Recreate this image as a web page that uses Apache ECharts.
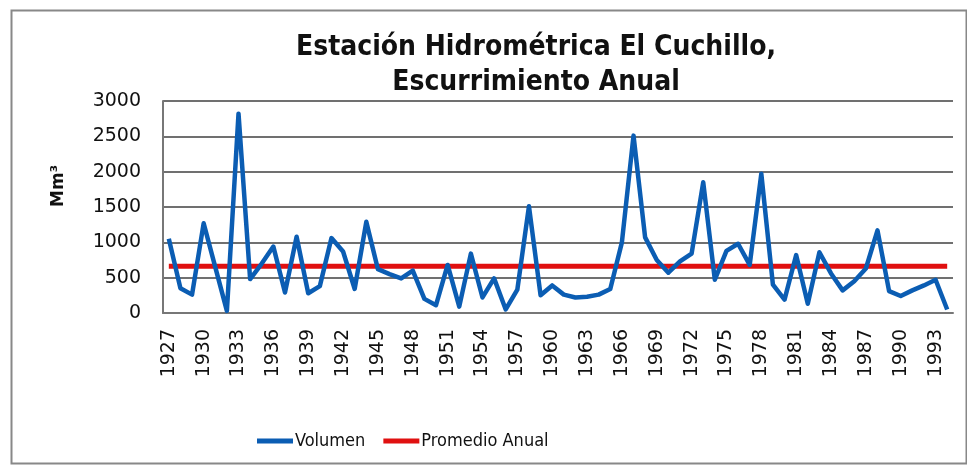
<!DOCTYPE html>
<html>
<head>
<meta charset="utf-8">
<script src="https://cdn.jsdelivr.net/npm/echarts@6/dist/echarts.min.js"></script>
<style>html,body{margin:0;padding:0;background:#fff}#c{width:967px;height:466px}</style>
</head>
<body>
<div id="c"></div>
<script>
const years = [];
for (let y = 1927; y <= 1994; y++) years.push(String(y));
const volumen = [1050,350,260,1270,650,30,2820,480,700,940,290,1080,280,380,1060,870,340,1290,620,550,490,600,200,110,680,90,840,220,490,50,330,1510,250,390,260,220,230,260,340,1000,2510,1070,750,570,730,840,1850,470,880,980,680,1970,400,190,820,130,860,560,320,450,630,1170,310,240,320,390,470,50];
const promedioValue = 660;
const promedio = years.map(() => promedioValue);
const yTicks = [0, 500, 1000, 1500, 2000, 2500, 3000];

const narrow = '"DejaVu Sans Condensed", sans-serif';
const chart = echarts.init(document.getElementById('c'), null, {renderer: 'canvas'});
chart.setOption({
  animation: false,
  backgroundColor: '#fff',
  title: {
    text: 'Estación Hidrométrica El Cuchillo,\nEscurrimiento Anual',
    left: 531, textAlign: 'center', top: 25,
    textStyle: {fontFamily: narrow, fontWeight: 'bold', fontSize: 28, lineHeight: 35, color: '#111'}
  },
  legend: {
    left: 252, top: 427, itemWidth: 36, itemHeight: 5, itemGap: 18,
    icon: 'rect',
    textStyle: {fontFamily: narrow, fontSize: 18, color: '#111', padding: [0,0,0,-3]},
    data: ['Volumen', 'Promedio Anual']
  },
  grid: {left: 163, right: 14, top: 101, bottom: 153, containLabel: false},
  xAxis: {
    type: 'category', data: years, boundaryGap: true,
    axisLine: {lineStyle: {color: '#777', width: 2}},
    axisTick: {show: false},
    axisLabel: {interval: 2, rotate: 90, margin: 16, fontFamily: 'DejaVu Sans', fontSize: 19, color: '#111'}
  },
  yAxis: {
    type: 'value', min: 0, max: 3000, interval: 500,
    axisLine: {show: true, lineStyle: {color: '#777', width: 2}},
    axisTick: {show: false},
    splitLine: {lineStyle: {color: '#707070', width: 2}},
    axisLabel: {margin: 22, fontFamily: 'DejaVu Sans', fontSize: 19, color: '#111',
      formatter: v => yTicks.includes(v) ? String(v) : ''}
  },
  series: [
    {name: 'Volumen', type: 'line', data: volumen, symbol: 'none', smooth: false,
     itemStyle: {color: '#0b5db3'}, lineStyle: {color: '#0b5db3', width: 4.5, join: 'round'}, z: 3},
    {name: 'Promedio Anual', type: 'line', data: promedio, symbol: 'none',
     itemStyle: {color: '#e01010'}, lineStyle: {color: '#e01010', width: 5}, z: 2}
  ],
  graphic: [
    {type: 'rect', left: 9, top: 8, shape: {width: 955, height: 453}, style: {fill: 'none', stroke: '#888', lineWidth: 2}, silent: true},
    {type: 'text', x: 50, y: 207, rotation: Math.PI/2,
     style: {text: 'Mm³', font: 'bold 17px "DejaVu Sans"', fill: '#111', textAlign: 'left', textVerticalAlign: 'top'}}
  ]
});
</script>
</body>
</html>
